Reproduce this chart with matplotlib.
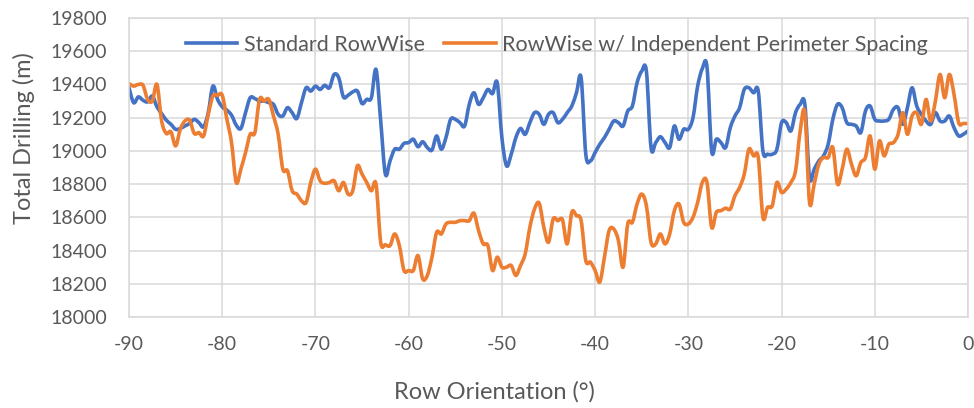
import matplotlib
matplotlib.use("Agg")
import matplotlib.pyplot as plt
from matplotlib.path import Path
from matplotlib.patches import PathPatch
from matplotlib.lines import Line2D
import numpy as np

# Row orientation from -90 to 0 in 0.5 degree steps
angles = np.arange(-90, 0.25, 0.5)

standard = [
    19380, 19290, 19325, 19305, 19295, 19330, 19265, 19225, 19185, 19160,
    19130, 19135, 19150, 19165, 19190, 19170, 19145, 19230, 19390, 19310,
    19265, 19245, 19215, 19155, 19135, 19230, 19320, 19315, 19300, 19300,
    19290, 19280, 19220, 19210, 19260, 19230, 19195, 19290, 19380, 19360,
    19390, 19370, 19395, 19380, 19460, 19440, 19325, 19335, 19355, 19360,
    19285, 19310, 19320, 19490, 19180, 18860, 18940, 19010, 19010, 19045,
    19050, 19070, 19025, 19055, 19020, 19005, 19090, 19010, 19080, 19190,
    19190, 19170, 19150, 19280, 19350, 19280, 19320, 19370, 19345, 19410,
    19080, 18910, 18980, 19080, 19135, 19100, 19170, 19230, 19220, 19160,
    19220, 19230, 19170, 19190, 19230, 19270, 19350, 19440, 18980, 18940,
    18990, 19040, 19080, 19130, 19180, 19170, 19150, 19240, 19270, 19410,
    19480, 19480, 19020, 19050, 19085, 19050, 19020, 19150, 19070, 19130,
    19130, 19200, 19390, 19495, 19505, 19000, 19070, 19050, 19020, 19140,
    19210, 19260, 19370, 19380, 19350, 19360, 19000, 18980, 18980, 19010,
    19170, 19170, 19120, 19230, 19280, 19280, 18840, 18890, 18940, 18970,
    19040, 19190, 19280, 19260, 19170, 19160, 19150, 19110, 19240, 19270,
    19190, 19180, 19180, 19190, 19250, 19260, 19160, 19260, 19380, 19270,
    19220, 19180, 19160, 19230, 19180, 19180, 19210, 19140, 19090, 19100,
    19120,
]

independent = [
    19405, 19390, 19400, 19395, 19310, 19300, 19400, 19180, 19105, 19115,
    19030, 19130, 19180, 19185, 19105, 19110, 19090, 19220, 19330, 19335,
    19335, 19190, 19050, 18810, 18890, 18990, 19100, 19110, 19310, 19300,
    19310, 19210, 19100, 18890, 18880, 18760, 18740, 18700, 18690, 18810,
    18890, 18820, 18805, 18810, 18820, 18760, 18810, 18740, 18760, 18910,
    18860, 18810, 18760, 18800, 18450, 18435, 18430, 18500, 18430, 18280,
    18280, 18280, 18370, 18230, 18250, 18360, 18510, 18500, 18560, 18570,
    18570, 18580, 18580, 18580, 18625, 18520, 18440, 18430, 18280, 18360,
    18300, 18300, 18310, 18250, 18310, 18380, 18540, 18650, 18685, 18540,
    18450, 18590, 18580, 18585, 18440, 18630, 18610, 18580, 18340, 18330,
    18280, 18210, 18360, 18520, 18530, 18460, 18300, 18560, 18570, 18680,
    18740, 18670, 18450, 18440, 18500, 18440, 18500, 18640, 18680, 18570,
    18560, 18600, 18690, 18810, 18810, 18540, 18630, 18640, 18655, 18650,
    18730, 18780, 18860, 19010, 18970, 18960, 18600, 18660, 18670, 18810,
    18750, 18770, 18810, 18880, 19120, 19230, 18690, 18800, 18920, 18960,
    18960, 19020, 18800, 18890, 19010, 18920, 18850, 18930, 18960, 19090,
    18890, 19060, 18970, 19040, 19050, 19100, 19230, 19100, 19210, 19230,
    19160, 19310, 19180, 19300, 19460, 19320, 19460, 19340, 19170, 19165,
    19165,
]

x_ticks = list(range(-90, 1, 10))
y_ticks = list(range(18000, 19801, 200))

plt.rcParams["axes.unicode_minus"] = False
font = "Lato"
grey = "#595959"
blue = "#4472C4"
orange = "#ED7D31"


def smooth_path(xs, ys):
    # Excel-style smoothed line: cubic bezier through each data point
    pts = np.column_stack([xs, ys]).astype(float)
    n = len(pts)
    verts = [pts[0]]
    codes = [Path.MOVETO]
    for i in range(n - 1):
        p0 = pts[max(i - 1, 0)]
        p1 = pts[i]
        p2 = pts[i + 1]
        p3 = pts[min(i + 2, n - 1)]
        verts += [p1 + (p2 - p0) / 6, p2 - (p3 - p1) / 6, p2]
        codes += [Path.CURVE4] * 3
    return Path(verts, codes)


fig = plt.figure(figsize=(9.74, 4.08), dpi=100)
ax = fig.add_axes([129 / 974, 1 - 317 / 408, 839 / 974, 299 / 408])

for ys, c in [(standard, blue), (independent, orange)]:
    ax.add_patch(PathPatch(smooth_path(angles, ys), facecolor="none",
                           edgecolor=c, lw=2.6, joinstyle="round", capstyle="round"))

ax.set_xlim(-90, 0)
ax.set_ylim(18000, 19800)
ax.set_xticks(x_ticks)
ax.set_yticks(y_ticks)
ax.grid(True, color="#D9D9D9", lw=1.1)
ax.set_axisbelow(True)
for s in ax.spines.values():
    s.set_color("#D9D9D9")
    s.set_linewidth(1.1)
ax.tick_params(length=0, labelcolor=grey, labelsize=14)
ax.tick_params(axis="x", pad=14)
ax.tick_params(axis="y", pad=16)
for lab in ax.get_xticklabels() + ax.get_yticklabels():
    lab.set_fontfamily(font)

ax.set_xlabel("Row Orientation (°)", fontsize=17, color=grey, family=font)
ax.set_ylabel("Total Drilling (m)", fontsize=17, color=grey, family=font)
ax.xaxis.set_label_coords(0.435, -0.215)
ax.yaxis.set_label_coords(-0.112, 0.6)

handles = [Line2D([], [], color=blue, lw=2.6),
           Line2D([], [], color=orange, lw=2.6)]
labels = ["Standard RowWise", "RowWise w/ Independent Perimeter Spacing"]
fig.legend(handles, labels, loc="center", bbox_to_anchor=(557 / 974, 1 - 45 / 408),
           ncol=2, frameon=False, handlelength=2.4, columnspacing=0.9,
           handletextpad=0.3, prop={"family": font, "size": 15.5}, labelcolor=grey)

fig.savefig("out.png", dpi=100)
